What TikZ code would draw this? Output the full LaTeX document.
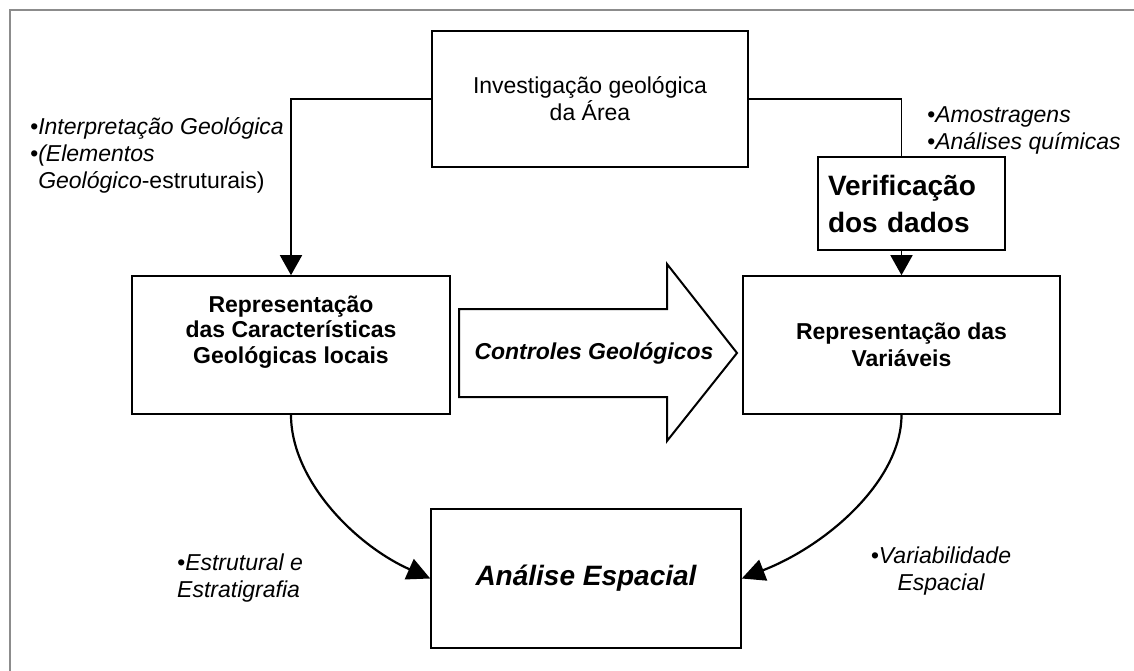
\documentclass[tikz,border=0pt]{standalone}
\usepackage{fontspec}
\setmainfont{Liberation Sans}
\usetikzlibrary{arrows.meta}
\begin{document}
\begin{tikzpicture}[x=1pt,y=-1pt,
 box/.style={draw, line width=1.6pt, inner sep=0pt, align=center},
 arr/.style={line width=1.6pt, -{Triangle[length=20pt,width=22pt]}},
 carr/.style={line width=2.2pt, -{Triangle[length=23pt,width=22pt]}},
 lbl/.style={inner sep=0pt, font=\fontsize{23}{27}\selectfont\itshape},
 frameline/.style={draw=black!45, line width=1.2pt},
]
\useasboundingbox (0,0) rectangle (1134,671);
% page frame
\draw[frameline] (10,671) -- (10,10) -- (1134,10);

% boxes
\node[box, minimum width=316pt, minimum height=136pt,
      font=\fontsize{23}{27}\selectfont] (top) at (590,99)
      {Investigação geológica\\da Área};
\node[box, minimum width=187pt, minimum height=93pt, text width=167pt,
      align=left, font=\fontsize{28}{37}\selectfont\bfseries] (verif) at (911.5,203.5)
      {Verificação\\dos dados};
\node[box, minimum width=318pt, minimum height=138pt] (left) at (291,345) {};
\node[inner sep=0pt, align=center, font=\fontsize{23}{25.5}\selectfont\bfseries]
      (lefttxt) at (291,332) {Representação\\das Características\\Geológicas locais};
\node[box, minimum width=317pt, minimum height=138pt,
      font=\fontsize{23}{27}\selectfont\bfseries] (right) at (901.5,345)
      {Representação das\\Variáveis};
\node[box, minimum width=310pt, minimum height=139pt,
      font=\fontsize{28}{32}\selectfont\bfseries\itshape] (bottom) at (586,578.5)
      {Análise Espacial};

% big arrow
\draw[line width=2pt, line join=miter]
  (459,309) -- (667,309) -- (667,264) -- (737,353) -- (667,441) -- (667,397) -- (459,397) -- cycle;
\node[inner sep=0pt, font=\fontsize{23}{27}\selectfont\bfseries\itshape] (ctrl) at (594,353)
  {Controles Geológicos};

% connectors
\draw[arr] (top.west) -| (left.north);
\draw[line width=1.6pt] (top.east) -| (right.north |- verif.north);
\draw[arr] (right.north |- verif.south) -- (right.north);
\draw[carr] (left.south) .. controls (291,480) and (355,545) .. (bottom.west);
\draw[carr] (right.south) .. controls (901.5,480) and (828,545) .. (bottom.east);

% labels
\node[lbl, anchor=west, align=left] (lab1) at (30,155)
  {•Interpretação Geológica\\•(Elementos\\\hphantom{•}Geológico\upshape-estruturais)};
\node[lbl, anchor=west, align=left] (lab2) at (927,130)
  {•Amostragens\\•Análises químicas};
\node[lbl, anchor=west, align=left] (lab3) at (177,578.5)
  {•Estrutural e\\Estratigrafia};
\node[lbl, align=center] (lab4) at (941,571.5)
  {•Variabilidade\\Espacial};
\end{tikzpicture}
\end{document}
